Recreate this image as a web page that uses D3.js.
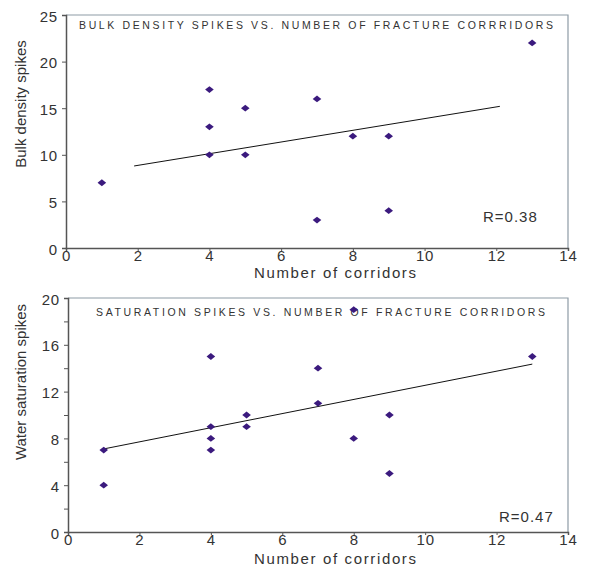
<!DOCTYPE html>
<html><head><meta charset="utf-8">
<script src="https://cdn.jsdelivr.net/npm/d3@7"></script>
<style>body{margin:0;background:#fff}svg{display:block}text{font-family:"Liberation Sans",Arial,sans-serif}</style>
</head><body>
<svg id="c" width="595" height="569"></svg>
<script>
// Top chart: bulk density spikes
const bulkX = [1, 4, 4, 4, 5, 5, 7, 7, 8, 9, 9, 13];
const bulkY = [7, 17, 13, 10, 15, 10, 16, 3, 12, 12, 4, 22];
const bulkTrendX = [1.9, 12.1];
const bulkTrendY = [8.8, 15.2];
const bulkYTicks = [0, 5, 10, 15, 20, 25];
// Bottom chart: water saturation spikes
const satX = [1, 1, 4, 4, 4, 4, 5, 5, 7, 7, 8, 8, 9, 9, 13];
const satY = [7, 4, 15, 9, 8, 7, 10, 9, 14, 11, 19, 8, 10, 5, 15];
const satTrendX = [1, 13];
const satTrendY = [7.1, 14.35];
const satYTicks = [0, 4, 8, 12, 16, 20];
const satYMinor = [2, 6, 10, 14, 18];
const xTicks = [0, 2, 4, 6, 8, 10, 12, 14];

const svg = d3.select("#c");

function panel(o) {
  const x = d3.scaleLinear().domain([0, 14]).range([o.left, o.right]);
  const y = d3.scaleLinear().domain([0, o.ymax]).range([o.bottom, o.top]);
  const g = svg.append("g");
  // frame top/right
  g.append("path")
    .attr("d", `M${o.left},${o.top}H${o.right}V${o.bottom}`)
    .attr("fill", "none").attr("stroke", "#8e9ba6").attr("stroke-width", 1.2);
  // y axis
  const ya = g.append("g").attr("transform", `translate(${o.left},0)`)
    .call(d3.axisLeft(y).tickValues(o.yTicks).tickSize(4).tickPadding(4));
  if (o.yMinor) {
    g.append("g").attr("transform", `translate(${o.left},0)`)
      .call(d3.axisLeft(y).tickValues(o.yMinor).tickSize(4).tickFormat(""))
      .call(s => s.select(".domain").remove())
      .selectAll("line").attr("stroke", "#555");
  }
  const xa = g.append("g").attr("transform", `translate(0,${o.bottom})`)
    .call(d3.axisBottom(x).tickValues(xTicks).tickSize(3).tickPadding(0));
  [ya, xa].forEach(a => {
    a.select(".domain").attr("stroke", "#555").attr("stroke-width", 1.5);
    a.selectAll("line").attr("stroke", "#555");
    a.selectAll("text").attr("font-size", 15).attr("fill", "#333")
      .attr("letter-spacing", "0.8px");
  });
  ya.selectAll("text").attr("dy", "0.4em");
  xa.selectAll("text").attr("dy", "0.68em");
  // title
  g.append("text").attr("x", o.titleX).attr("y", o.titleY)
    .attr("font-size", 10.5).attr("fill", "#333")
    .attr("textLength", o.titleLen).attr("lengthAdjust", "spacing")
    .text(o.title);
  // x label
  g.append("text").attr("x", 254).attr("y", o.xLabelY)
    .attr("font-size", 15).attr("fill", "#333")
    .attr("textLength", 162).attr("lengthAdjust", "spacing")
    .text("Number of corridors");
  // y label
  g.append("text")
    .attr("transform", `translate(${o.yLabelX},${o.yLabelC}) rotate(-90)`)
    .attr("text-anchor", "middle").attr("font-size", 15).attr("fill", "#333")
    .text(o.yLabel);
  // trend line
  g.append("line")
    .attr("x1", x(o.tx[0])).attr("y1", y(o.ty[0]))
    .attr("x2", x(o.tx[1])).attr("y2", y(o.ty[1]))
    .attr("stroke", "#111").attr("stroke-width", 1);
  // points
  const sym = "M0,-3.4L4.3,0L0,3.4L-4.3,0Z";
  g.selectAll("path.pt").data(o.xs.map((v, i) => [v, o.ys[i]])).join("path")
    .attr("class", "pt")
    .attr("transform", d => `translate(${x(d[0])},${y(d[1])})`)
    .attr("d", sym).attr("fill", "#3b1a7e");
  // R
  g.append("text").attr("x", o.rX).attr("y", o.rY)
    .attr("font-size", 15).attr("fill", "#333").attr("letter-spacing", "1px")
    .text(o.r);
}

panel({left: 66, right: 568, top: 15, bottom: 248, ymax: 25,
  yTicks: bulkYTicks, xs: bulkX, ys: bulkY, tx: bulkTrendX, ty: bulkTrendY,
  title: "BULK DENSITY SPIKES VS. NUMBER OF FRACTURE CORRRIDORS",
  titleX: 79, titleY: 29, titleLen: 474, xLabelY: 278,
  yLabel: "Bulk density spikes", yLabelX: 26, yLabelC: 104,
  r: "R=0.38", rX: 483, rY: 222});

panel({left: 68, right: 568, top: 298, bottom: 532, ymax: 20,
  yTicks: satYTicks, yMinor: satYMinor, xs: satX, ys: satY, tx: satTrendX, ty: satTrendY,
  title: "SATURATION SPIKES VS. NUMBER OF FRACTURE CORRIDORS",
  titleX: 96, titleY: 316, titleLen: 449, xLabelY: 564,
  yLabel: "Water saturation spikes", yLabelX: 26, yLabelC: 382,
  r: "R=0.47", rX: 499, rY: 522});
</script>
</body></html>
